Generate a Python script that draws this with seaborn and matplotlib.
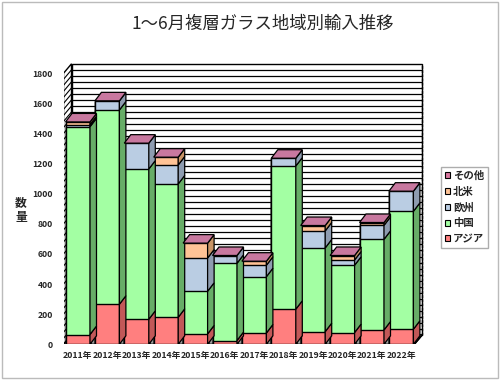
import numpy as np
import pandas as pd
import matplotlib
matplotlib.use('Agg')
import matplotlib.pyplot as plt
from matplotlib.patches import Polygon, Patch, Rectangle
import seaborn as sns

# data
years = ['2011年', '2012年', '2013年', '2014年', '2015年', '2016年',
         '2017年', '2018年', '2019年', '2020年', '2021年', '2022年']
asia = [65, 266, 166, 179, 69, 25, 75, 233, 84, 78, 95, 100]
china = [1380, 1290, 998, 886, 283, 513, 374, 951, 556, 447, 602, 783]
europe = [14, 60, 171, 126, 221, 51, 76, 51, 113, 35, 93, 133]
namerica = [17, 0, 0, 51, 98, 0, 26, 0, 35, 29, 18, 0]
other = [1, 1, 1, 1, 1, 1, 1, 1, 1, 1, 1, 1]
series = ['アジア', '中国', '欧州', '北米', 'その他']
y_ticks = [0, 200, 400, 600, 800, 1000, 1200, 1400, 1600, 1800]

FRONT = {'アジア': '#FF7F7F', '中国': '#A3FFA3', '欧州': '#BACDE3',
         '北米': '#FFC396', 'その他': '#D9779F'}
SIDE = {'アジア': '#C25858', '中国': '#67AD67', '欧州': '#8E9CB0',
        '北米': '#C99466', 'その他': '#A8587A'}
TOP = '#C8789F'

df = pd.DataFrame({'year': years, 'アジア': asia, '中国': china, '欧州': europe,
                   '北米': namerica, 'その他': other})
cum = df[series].cumsum(axis=1)

sns.set_theme(style='white')
plt.rcParams['font.family'] = ['Noto Sans CJK JP', 'DejaVu Sans']

W, H = 500, 380
fig = plt.figure(figsize=(5, 3.8), dpi=100)
fig.patch.set_facecolor('white')

# geometry in pixels
X0, Y0 = 63.5, 344.3
CAT = 29.4
PXU = 271 / 1800
AX_R, AX_T = 432, 60
ax = fig.add_axes([X0 / W, (H - Y0) / H, (AX_R - X0) / W, (Y0 - AX_T) / H])
ax.set_facecolor('none')
xmin = -(77.75 - X0) / CAT
xmax = xmin + (AX_R - X0) / CAT
ymax = (Y0 - AX_T) / PXU

WDX, WDY = 8 / CAT, 9.5 / PXU   # wall depth
BDX, BDY = 6.5 / CAT, 8.5 / PXU  # bar depth
BW = 0.833
xr = 11.45

# walls + floor
ax.add_patch(Rectangle((xmin + WDX, WDY), xr - xmin, 1800, facecolor='white',
                       edgecolor='black', lw=1, zorder=0.5))
ax.add_patch(Polygon([(xmin, 0), (xmin + WDX, WDY), (xmin + WDX, 1800 + WDY), (xmin, 1800)],
                     closed=True, facecolor='white', edgecolor='black', lw=1, zorder=0.6))
grid_vals = np.arange(40, 1800, 40)
ax.hlines(grid_vals + WDY, xmin + WDX, xr + WDX, color='black', lw=0.9, zorder=0.7)
for v in grid_vals:
    ax.plot([xmin, xmin + WDX], [v, v + WDY], color='black', lw=0.8, zorder=0.7)
ax.add_patch(Polygon([(xmin, 0), (xr, 0), (xr + WDX, WDY), (xmin + WDX, WDY)],
                     closed=True, facecolor='#9A9A9A', edgecolor='black', lw=1, zorder=0.8))
ax.plot([xr, xr + WDX], [0, WDY], color='black', lw=1, zorder=0.8)
ax.plot([xr + WDX] * 2, [WDY, 1800 + WDY], color='black', lw=1, ls=(0, (2, 1)), zorder=0.8)

# stacked bars: draw cumulative totals from tallest to shortest
for s in reversed(series):
    sns.barplot(x=df['year'], y=cum[s], color=FRONT[s], width=BW, saturation=1,
                edgecolor='black', linewidth=1, errorbar=None, ax=ax, zorder=2)

# 3D side and top faces
for i in range(len(years)):
    x0, x1 = i - BW / 2, i + BW / 2
    bottom = 0
    for s in series:
        top = cum.loc[i, s]
        if top > bottom + 1:
            ax.add_patch(Polygon([(x1, bottom), (x1 + BDX, bottom + BDY),
                                  (x1 + BDX, top + BDY), (x1, top)], closed=True,
                                 facecolor=SIDE[s], edgecolor='black', lw=0.9, zorder=3))
        bottom = top
    T = cum.loc[i, 'その他']
    ax.add_patch(Polygon([(x0, T), (x1, T), (x1 + BDX, T + BDY), (x0 + BDX, T + BDY)],
                         closed=True, facecolor=TOP, edgecolor='black', lw=0.9, zorder=3))

ax.set_xlim(xmin, xmax)
ax.set_ylim(0, ymax)
ax.set_yticks(y_ticks)
ax.set_yticklabels([str(v) for v in y_ticks], fontsize=6.2, fontweight='bold')
ax.set_xticks(range(len(years)))
ax.set_xticklabels(years, fontsize=6.3, fontweight='bold')
ax.tick_params(axis='y', length=0, pad=7.5)
ax.tick_params(axis='x', length=0, pad=5)
ax.set_xlabel('')
ax.set_ylabel('')
for sp in ax.spines.values():
    sp.set_visible(False)

fig.text(263 / W, 1 - 24 / H, '1～6月複層ガラス地域別輸入推移', ha='center', va='center',
         fontsize=12.5)
fig.text(21 / W, 1 - 210 / H, '数\n量', ha='center', va='center', fontsize=8.5,
         fontweight='bold', linespacing=1.2)

handles = [Patch(facecolor=FRONT[s], edgecolor='black', lw=0.8) for s in reversed(series)]
fig.legend(handles, list(reversed(series)), loc='upper left',
           bbox_to_anchor=(440.7 / W, 1 - 166.7 / H), borderaxespad=0,
           frameon=True, fancybox=False, edgecolor='#999999',
           prop={'size': 7.5, 'weight': 'bold'},
           handlelength=0.5, handleheight=0.5, handletextpad=0.3,
           labelspacing=0.55, borderpad=0.4)

fig.patches.append(Rectangle((0.004, 0.004), 0.992, 0.992, transform=fig.transFigure,
                             fill=False, edgecolor='#BBBBBB', lw=1))

fig.savefig('out.png', dpi=100)
plt.close()
